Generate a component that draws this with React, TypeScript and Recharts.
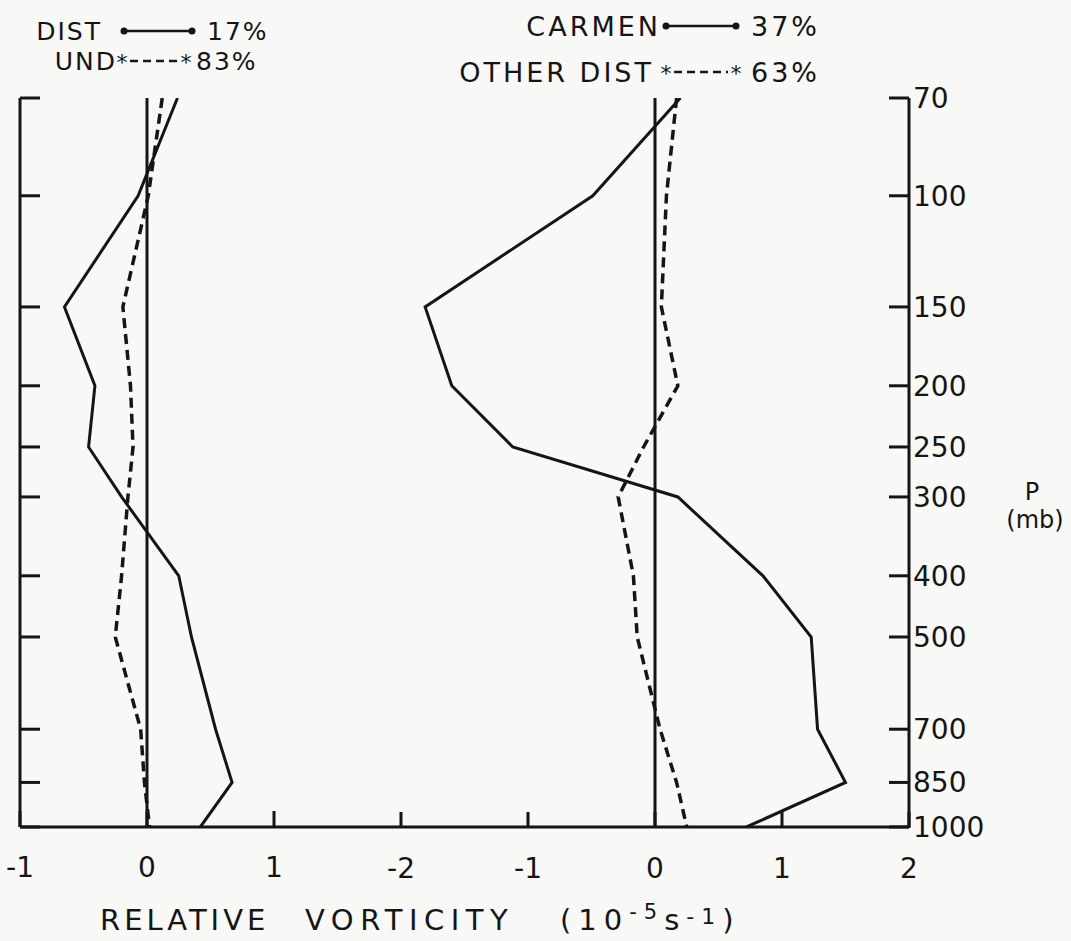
import { ScatterChart, Scatter, XAxis, YAxis, ReferenceLine, Legend } from 'recharts'

// pressure levels (mb), log axis top -> bottom
const PRESSURE = [70, 100, 150, 200, 250, 300, 400, 500, 700, 850, 1000]

// left panel: relative vorticity (10^-5 s^-1)
const DIST = [0.24, -0.07, -0.65, -0.41, -0.46, -0.2, 0.25, 0.35, 0.54, 0.67, 0.42]
const UND = [0.12, 0.01, -0.19, -0.13, -0.11, -0.15, -0.2, -0.25, -0.05, -0.02, 0.02]

// right panel
const CARMEN = [0.2, -0.49, -1.81, -1.6, -1.12, 0.18, 0.85, 1.23, 1.28, 1.5, 0.72]
const OTHER_DIST = [0.17, 0.09, 0.05, 0.18, -0.09, -0.29, -0.17, -0.14, 0.04, 0.17, 0.25]

const LEFT_TICKS = [-1, 0, 1]
const RIGHT_TICKS = [-2, -1, 0, 1, 2]

const NAMES = ['DIST', 'UND', 'CARMEN', 'OTHER DIST']
const SHARES = ['17%', '83%', '37%', '63%']

const W = 1071
const H = 941
const INK = '#151515'
const BG = '#f8f8f6'
const FONT = '"DejaVu Sans", sans-serif'

const toPoints = (vals: number[]) => PRESSURE.map((p, i) => ({ p, v: vals[i] }))

const noDot = () => <g />
const noLabel = () => <g />

function SolidKey({ x, y, w }: { x: number; y: number; w: number }) {
  return (
    <g>
      <line x1={x} y1={y} x2={x + w} y2={y} stroke={INK} strokeWidth={2.5} />
      <circle cx={x} cy={y} r={3.5} fill={INK} />
      <circle cx={x + w} cy={y} r={3.5} fill={INK} />
    </g>
  )
}

function DashKey({ x, y, w }: { x: number; y: number; w: number }) {
  return (
    <g>
      <line x1={x + 8} y1={y} x2={x + w - 8} y2={y} stroke={INK} strokeWidth={2.5} strokeDasharray="8 5" />
      <text x={x} y={y + 9} fontSize={22} textAnchor="middle" fill={INK} fontFamily={FONT}>*</text>
      <text x={x + w} y={y + 9} fontSize={22} textAnchor="middle" fill={INK} fontFamily={FONT}>*</text>
    </g>
  )
}

function KeyBlock() {
  const left = { fontSize: 25, fill: INK, fontFamily: FONT }
  const right = { fontSize: 27, fill: INK, fontFamily: FONT }
  return (
    <svg width={W} height={95} style={{ display: 'block' }}>
      {/* left panel key */}
      <text x={102} y={40} textAnchor="end" letterSpacing={2} {...left}>{NAMES[0]}</text>
      <SolidKey x={124} y={31} w={68} />
      <text x={207} y={40} letterSpacing={2} {...left}>{SHARES[0]}</text>
      <text x={117} y={70} textAnchor="end" letterSpacing={2} {...left}>{NAMES[1]}</text>
      <DashKey x={122} y={61} w={64} />
      <text x={196} y={70} letterSpacing={2} {...left}>{SHARES[1]}</text>
      {/* right panel key */}
      <text x={661} y={36} textAnchor="end" letterSpacing={3} {...right}>{NAMES[2]}</text>
      <SolidKey x={666} y={26} w={70} />
      <text x={751} y={36} letterSpacing={3} {...right}>{SHARES[2]}</text>
      <text x={654} y={82} textAnchor="end" letterSpacing={3} {...right}>{NAMES[3]}</text>
      <DashKey x={666} y={72} w={70} />
      <text x={751} y={82} letterSpacing={3} {...right}>{SHARES[3]}</text>
    </svg>
  )
}

export default function App() {
  const tickStyle = { fill: INK, fontSize: 28, fontFamily: FONT }
  const line = { stroke: INK, strokeWidth: 3 }
  const dashed = { stroke: INK, strokeWidth: 3.5, strokeDasharray: '10 6' }

  return (
    <div style={{ position: 'absolute', left: 0, top: 0, width: W, height: H, background: BG }}>
      <ScatterChart width={W} height={H} margin={{ top: 98, right: 161, bottom: 113, left: 19 }}>
        <XAxis
          xAxisId="L" type="number" dataKey="v" domain={[-1, 6]} allowDataOverflow
          ticks={LEFT_TICKS} interval={0} height={1}
          axisLine={{ stroke: INK, strokeWidth: 3 }} tickLine={{ stroke: INK, strokeWidth: 3 }}
          tickSize={-16} tickMargin={46} tick={tickStyle}
        />
        <XAxis
          xAxisId="R" type="number" dataKey="v" domain={[-5, 2]} allowDataOverflow
          ticks={RIGHT_TICKS} interval={0} height={0.01}
          axisLine={false} tickLine={{ stroke: INK, strokeWidth: 3 }}
          tickSize={-16} tickMargin={46} tick={tickStyle}
        />
        <YAxis
          yAxisId="p" orientation="right" type="number" dataKey="p" scale="log" domain={[70, 1000]}
          reversed allowDataOverflow ticks={PRESSURE} interval={0} width={1}
          axisLine={{ stroke: INK, strokeWidth: 3 }} tickLine={{ stroke: INK, strokeWidth: 3 }}
          tickSize={-20} tickMargin={24} tick={{ ...tickStyle, textAnchor: 'start' }}
        />
        <YAxis
          yAxisId="pl" orientation="left" type="number" dataKey="p" scale="log" domain={[70, 1000]}
          reversed allowDataOverflow ticks={PRESSURE} interval={0} width={1}
          axisLine={{ stroke: INK, strokeWidth: 3 }} tickLine={{ stroke: INK, strokeWidth: 3 }}
          tickSize={-20} tick={noLabel}
        />
        <ReferenceLine xAxisId="L" yAxisId="p" x={0} stroke={INK} strokeWidth={3} />
        <ReferenceLine xAxisId="R" yAxisId="p" x={0} stroke={INK} strokeWidth={3} />

        <Scatter name="DIST" data={toPoints(DIST)} xAxisId="L" yAxisId="p" line={line} lineType="joint" shape={noDot} isAnimationActive={false} />
        <Scatter name="UND" data={toPoints(UND)} xAxisId="L" yAxisId="p" line={dashed} lineType="joint" shape={noDot} isAnimationActive={false} />
        <Scatter name="CARMEN" data={toPoints(CARMEN)} xAxisId="R" yAxisId="p" line={line} lineType="joint" shape={noDot} isAnimationActive={false} />
        <Scatter name="OTHER DIST" data={toPoints(OTHER_DIST)} xAxisId="R" yAxisId="p" line={dashed} lineType="joint" shape={noDot} isAnimationActive={false} />

        <Legend
          layout="vertical" verticalAlign="middle" align="center"
          content={() => <KeyBlock />}
          wrapperStyle={{ position: 'absolute', top: 0, left: 0, width: W, height: 95 }}
        />
      </ScatterChart>

      {/* axis titles */}
      <svg width={W} height={H} style={{ position: 'absolute', left: 0, top: 0, pointerEvents: 'none' }}>
        <g fill={INK} fontFamily={FONT} fontSize={29}>
          <text x={100} y={930} letterSpacing={4}>RELATIVE</text>
          <text x={305} y={930} letterSpacing={6.5}>VORTICITY</text>
          <text x={560} y={930} letterSpacing={7}>
            (10<tspan dy={-11} fontSize={21}>-5</tspan><tspan dy={11}>s</tspan><tspan dy={-6} fontSize={22}>-1</tspan><tspan dy={6}>)</tspan>
          </text>
        </g>
        <g fill={INK} fontFamily={FONT} fontSize={24} textAnchor="middle">
          <text x={1032} y={500}>P</text>
          <text x={1035} y={528}>(mb)</text>
        </g>
      </svg>
    </div>
  )
}
